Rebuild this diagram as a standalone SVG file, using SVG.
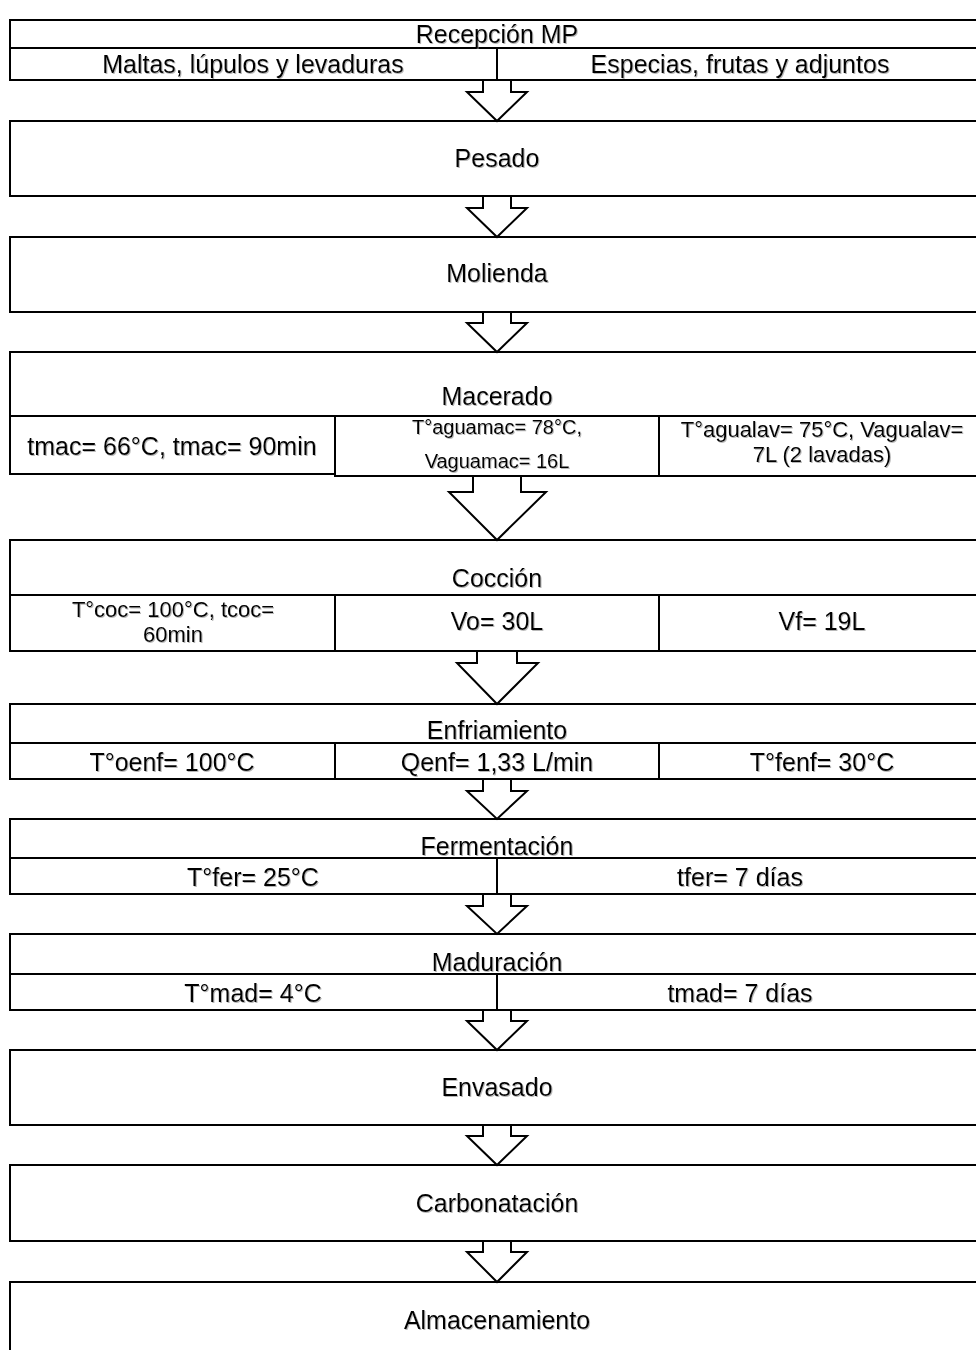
<svg xmlns="http://www.w3.org/2000/svg" width="976" height="1350" viewBox="0 0 976 1350">
<defs>
<filter id="sh" x="-5%" y="-20%" width="110%" height="140%">
<feDropShadow dx="1" dy="1" stdDeviation="0.6" flood-color="#888" flood-opacity="0.6"/>
</filter>
</defs>
<style>
rect,line{fill:none;stroke:#000;stroke-width:2}
.cell{fill:#fff;stroke:#000;stroke-width:2}
.arr{fill:#fff;stroke:#000;stroke-width:2;stroke-linejoin:miter}
text{font-family:"Liberation Sans",Arial,sans-serif;font-size:25px;fill:#000;text-anchor:middle;filter:url(#sh)}
.s{font-size:20px}
.w{font-size:22px}
</style>
<rect x="0" y="0" width="976" height="1350" style="fill:#fff;stroke:none"/>

<g id="connectors">
<polyline class="arr" points="483,80 483,92 467,92 497,121 527,92 511,92 511,80"/>
<polyline class="arr" points="483,196 483,208 467,208 497,237 527,208 511,208 511,196"/>
<polyline class="arr" points="483,312 483,323 467,323 497,352 527,323 511,323 511,312"/>
<polyline class="arr" points="473,476 473,492 449,492 497,540 546,492 521,492 521,476"/>
<polyline class="arr" points="477,651 477,663 457,663 497,704 538,663 517,663 517,651"/>
<polyline class="arr" points="483,779 483,791 467,791 497,819 527,791 511,791 511,779"/>
<polyline class="arr" points="483,894 483,906 467,906 497,934 527,906 511,906 511,894"/>
<polyline class="arr" points="483,1010 483,1021 467,1021 497,1050 527,1021 511,1021 511,1010"/>
<polyline class="arr" points="483,1125 483,1136 467,1136 497,1165 527,1136 511,1136 511,1125"/>
<polyline class="arr" points="483,1241 483,1252 467,1252 497,1282 527,1252 511,1252 511,1241"/>
</g>

<g id="recepcion">
<rect x="10" y="20" width="976" height="60"/>
<line x1="10" y1="48" x2="986" y2="48"/>
<line x1="497" y1="48" x2="497" y2="80"/>
<text x="497" y="43">Recepción MP</text>
<text x="253" y="73">Maltas, lúpulos y levaduras</text>
<text x="740" y="73">Especias, frutas y adjuntos</text>
</g>

<g id="pesado">
<rect x="10" y="121" width="976" height="75"/>
<text x="497" y="167">Pesado</text>
</g>

<g id="molienda">
<rect x="10" y="237" width="976" height="75"/>
<text x="497" y="282">Molienda</text>
</g>

<g id="macerado">
<rect x="10" y="352" width="976" height="64"/>
<rect x="10" y="416" width="325" height="58"/>
<rect class="cell" x="335" y="416" width="324" height="60"/>
<rect class="cell" x="659" y="416" width="327" height="60"/>
<text x="497" y="405">Macerado</text>
<text x="172" y="455">tmac= 66°C, tmac= 90min</text>
<text class="s" x="497" y="434">T°aguamac= 78°C,</text>
<text class="s" x="497" y="468">Vaguamac= 16L</text>
<text class="w" x="822" y="437">T°agualav= 75°C, Vagualav=</text>
<text class="w" x="822" y="462">7L (2 lavadas)</text>
</g>

<g id="coccion">
<rect x="10" y="540" width="976" height="111"/>
<line x1="10" y1="595" x2="986" y2="595"/>
<line x1="335" y1="595" x2="335" y2="651"/>
<line x1="659" y1="595" x2="659" y2="651"/>
<text x="497" y="587">Cocción</text>
<text class="w" x="173" y="617">T°coc= 100°C, tcoc=</text>
<text class="w" x="173" y="642">60min</text>
<text x="497" y="630">Vo= 30L</text>
<text x="822" y="630">Vf= 19L</text>
</g>

<g id="enfriamiento">
<rect x="10" y="704" width="976" height="75"/>
<line x1="10" y1="743" x2="986" y2="743"/>
<line x1="335" y1="743" x2="335" y2="779"/>
<line x1="659" y1="743" x2="659" y2="779"/>
<text x="497" y="739">Enfriamiento</text>
<text x="172" y="771">T°oenf= 100°C</text>
<text x="497" y="771">Qenf= 1,33 L/min</text>
<text x="822" y="771">T°fenf= 30°C</text>
</g>

<g id="fermentacion">
<rect x="10" y="819" width="976" height="75"/>
<line x1="10" y1="858" x2="986" y2="858"/>
<line x1="497" y1="858" x2="497" y2="894"/>
<text x="497" y="855">Fermentación</text>
<text x="253" y="886">T°fer= 25°C</text>
<text x="740" y="886">tfer= 7 días</text>
</g>

<g id="maduracion">
<rect x="10" y="934" width="976" height="76"/>
<line x1="10" y1="974" x2="986" y2="974"/>
<line x1="497" y1="974" x2="497" y2="1010"/>
<text x="497" y="971">Maduración</text>
<text x="253" y="1002">T°mad= 4°C</text>
<text x="740" y="1002">tmad= 7 días</text>
</g>

<g id="envasado">
<rect x="10" y="1050" width="976" height="75"/>
<text x="497" y="1096">Envasado</text>
</g>

<g id="carbonatacion">
<rect x="10" y="1165" width="976" height="76"/>
<text x="497" y="1212">Carbonatación</text>
</g>

<g id="almacenamiento">
<rect x="10" y="1282" width="976" height="80"/>
<text x="497" y="1329">Almacenamiento</text>
</g>
</svg>
